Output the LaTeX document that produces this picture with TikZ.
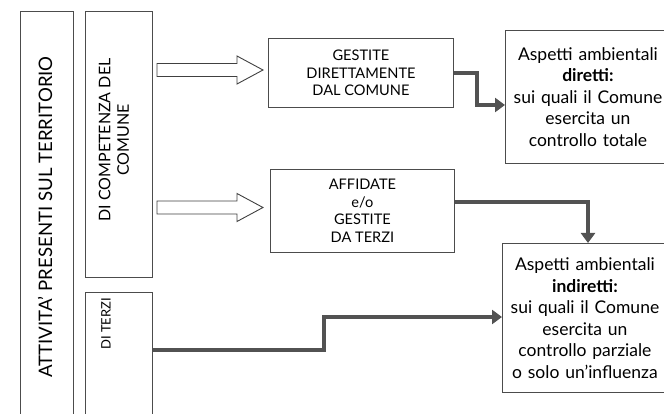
\documentclass[tikz,border=0pt]{standalone}
\usepackage{fontspec}
\setmainfont{Lato}
\usetikzlibrary{positioning, arrows.meta}

\begin{document}
\begin{tikzpicture}[x=1pt, y=-1pt,
    box/.style={draw=black!70, line width=0.9pt, inner sep=0pt, align=center, anchor=north west},
    caps/.style={font=\fontsize{14.6}{17.5}\selectfont},
    note/.style={font=\fontsize{17.5}{21.5}\selectfont},
    flow/.style={draw=black!68, line width=4pt, -{Triangle[length=10pt, width=14pt]}},
    hollow/.style={draw=black!75, line width=0.9pt, fill=white}]
    \useasboundingbox (0,0) rectangle (664,414);
    % left column
    \node[box, minimum width=53pt, minimum height=405pt] (att) at (20,11) {};
    \node[rotate=90, font=\fontsize{18.6}{22}\selectfont] at (45,217) {ATTIVITA' PRESENTI SUL TERRITORIO};
    \node[box, minimum width=67pt, minimum height=266pt] (comp) at (85,11) {};
    \node[rotate=90, align=center, font=\fontsize{16}{18.5}\selectfont] at (114,140) {DI COMPETENZA DEL\\COMUNE};
    \node[box, minimum width=67pt, minimum height=124pt] (terzi) at (85,292) {};
    \node[rotate=90, font=\fontsize{13}{17}\selectfont] at (106,324) {DI TERZI};
    % middle
    \node[box, caps, minimum width=185pt, minimum height=69pt] (gest) at (268,38) {GESTITE\\DIRETTAMENTE\\DAL COMUNE};
    \node[box, caps, minimum width=184pt, minimum height=83pt] (aff) at (270,169) {AFFIDATE\\e/o\\GESTITE\\DA TERZI};
    % right
    \node[box, note, minimum width=165pt, minimum height=133pt, text width=165pt] (dir) at (505,30)
        {Aspetti ambientali\\\textbf{diretti:}\\sui quali il Comune\\esercita un\\controllo totale};
    \node[box, note, minimum width=165pt, minimum height=149pt, text width=165pt] (ind) at (502,243)
        {Aspetti ambientali\\\textbf{indiretti:}\\sui quali il Comune\\esercita un\\controllo parziale\\o solo un'influenza};
    % hollow arrows
    \foreach \y in {70,207.5} {
        \draw[hollow] (157,\y-6.5) -- (237,\y-6.5) -- (237,\y-14) -- (263,\y) -- (237,\y+14)
            -- (237,\y+6.5) -- (157,\y+6.5) -- cycle;
    }
    % connectors
    \coordinate (g1) at (gest.east |- 0,73);
    \coordinate (d1) at (dir.west |- 0,105);
    \draw[flow] (g1) -| (477,105) -- (d1);
    \coordinate (a1) at (aff.east |- 0,202);
    \draw[flow] (a1) -| (ind.north -| 588,0);
    \coordinate (t1) at (terzi.east |- 0,350);
    \coordinate (i1) at (ind.west |- 0,317);
    \draw[flow] (t1) -| (324,317) -- (i1);
\end{tikzpicture}
\end{document}
